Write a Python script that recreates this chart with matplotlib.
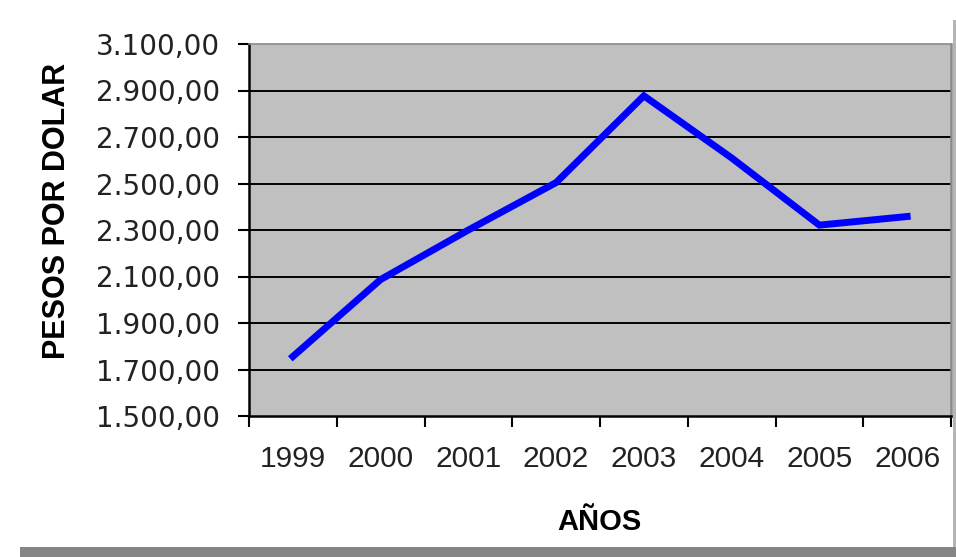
import matplotlib
matplotlib.use("Agg")
import matplotlib.pyplot as plt
from matplotlib.ticker import FuncFormatter, FixedLocator
from matplotlib.patches import Rectangle

years = ["1999", "2000", "2001", "2002", "2003", "2004", "2005", "2006"]
pesos = [1756, 2087, 2300, 2504, 2877, 2610, 2321, 2358]
y_ticks = [1500, 1700, 1900, 2100, 2300, 2500, 2700, 2900, 3100]

plt.rcParams['font.family'] = ['Liberation Sans', 'DejaVu Sans']

W, H = 956, 557
fig = plt.figure(figsize=(W / 100, H / 100), dpi=100)
fig.patch.set_facecolor('white')

# frame shadow
fig.patches.append(Rectangle((20 / W, 0), 1 - 20 / W, 10 / H, transform=fig.transFigure,
                             facecolor='#858585', edgecolor='none', zorder=0))
fig.patches.append(Rectangle((953 / W, 10 / H), 3 / W, 1 - 30 / H, transform=fig.transFigure,
                             facecolor='#b5b5b5', edgecolor='none', zorder=0))

L, R, T, B = 249, 951, 44, 416
ax = fig.add_axes([L / W, 1 - B / H, (R - L) / W, (B - T) / H])
ax.set_facecolor('#C0C0C0')

xs = [i + 0.5 for i in range(len(years))]
ax.plot(xs, pesos, color='#0000FF', linewidth=5, solid_joinstyle='miter', zorder=3)

ax.set_xlim(0, len(years))
ax.set_ylim(y_ticks[0], y_ticks[-1])

ax.xaxis.set_major_locator(FixedLocator(list(range(len(years) + 1))))
ax.set_xticklabels([''] * (len(years) + 1))
ax.set_xticks(xs, minor=True)
ax.set_xticklabels(years, minor=True)
ax.tick_params(axis='x', which='major', direction='out', length=8, width=1.5, color='black')
ax.tick_params(axis='x', which='minor', length=0, pad=21, labelsize=21.5, labelcolor='#222222')

ax.set_yticks(y_ticks)
ax.yaxis.set_major_formatter(FuncFormatter(
    lambda v, p: f"{v:,.2f}".replace(',', 'X').replace('.', ',').replace('X', '.')))
ax.tick_params(axis='y', direction='out', length=8, width=1.5, color='black',
               pad=13, labelsize=20, labelcolor='#222222')
for lab in ax.get_yticklabels():
    lab.set_fontfamily(['DejaVu Sans'])

for v in y_ticks[1:-1]:
    ax.axhline(v, color='black', linewidth=1.4, zorder=2)

ax.spines['left'].set_color('black')
ax.spines['left'].set_linewidth(1.8)
ax.spines['bottom'].set_color('black')
ax.spines['bottom'].set_linewidth(1.8)
ax.spines['top'].set_color('#8a8a8a')
ax.spines['top'].set_linewidth(1.2)
ax.spines['right'].set_color('#8a8a8a')
ax.spines['right'].set_linewidth(1.8)

fig.text(57 / W, 1 - 211 / H, "PESOS POR DOLAR", rotation=90, ha='center', va='center',
         fontsize=22, fontweight='bold', color='black')
fig.text(599 / W, 1 - 522 / H, "AÑOS", ha='center', va='center',
         fontsize=21, fontweight='bold', color='black')

fig.savefig("out.png", dpi=100, facecolor=fig.get_facecolor())
